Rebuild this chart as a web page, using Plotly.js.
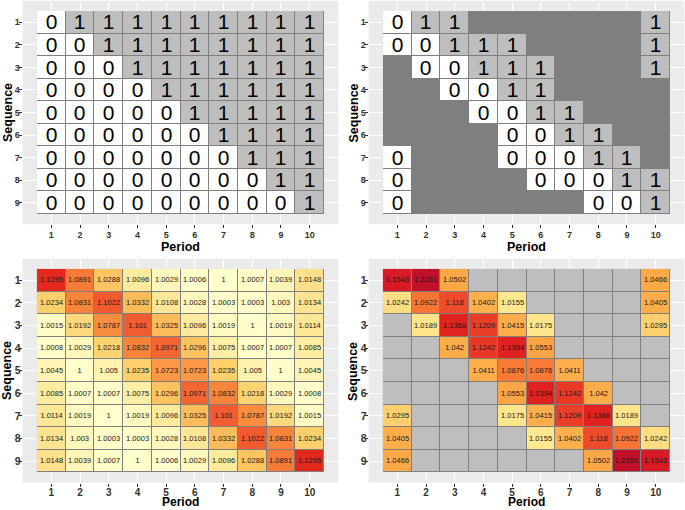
<!DOCTYPE html>
<html>
<head>
<meta charset="utf-8">
<script src="https://cdn.plot.ly/plotly-3.0.1.min.js"></script>
<style>html,body{margin:0;padding:0;background:#fff;}#chart{width:685px;height:510px;}</style>
</head>
<body>
<div id="chart"></div>
<script>
// ---- data ----
const periods = [1,2,3,4,5,6,7,8,9,10];
const sequences = [1,2,3,4,5,6,7,8,9];
const n = null;
const xTitle = 'Period';
const yTitle = 'Sequence';

const designComplete = [
  [0,1,1,1,1,1,1,1,1,1],
  [0,0,1,1,1,1,1,1,1,1],
  [0,0,0,1,1,1,1,1,1,1],
  [0,0,0,0,1,1,1,1,1,1],
  [0,0,0,0,0,1,1,1,1,1],
  [0,0,0,0,0,0,1,1,1,1],
  [0,0,0,0,0,0,0,1,1,1],
  [0,0,0,0,0,0,0,0,1,1],
  [0,0,0,0,0,0,0,0,0,1]
];

const designIncomplete = [
  [0,1,1,n,n,n,n,n,n,1],
  [0,0,1,1,1,n,n,n,n,1],
  [n,0,0,1,1,1,n,n,n,1],
  [n,n,0,0,1,1,n,n,n,n],
  [n,n,n,0,0,1,1,n,n,n],
  [n,n,n,n,0,0,1,1,n,n],
  [0,n,n,n,0,0,0,1,1,n],
  [0,n,n,n,n,0,0,0,1,1],
  [0,n,n,n,n,n,n,0,0,1]
];

const infoComplete = [
  [1.1295,1.0891,1.0288,1.0096,1.0029,1.0006,1,1.0007,1.0039,1.0148],
  [1.0234,1.0831,1.1022,1.0332,1.0108,1.0028,1.0003,1.0003,1.003,1.0134],
  [1.0015,1.0192,1.0787,1.101,1.0325,1.0096,1.0019,1,1.0019,1.0114],
  [1.0008,1.0029,1.0218,1.0832,1.0971,1.0296,1.0075,1.0007,1.0007,1.0085],
  [1.0045,1,1.005,1.0235,1.0723,1.0723,1.0235,1.005,1,1.0045],
  [1.0085,1.0007,1.0007,1.0075,1.0296,1.0971,1.0832,1.0218,1.0029,1.0008],
  [1.0114,1.0019,1,1.0019,1.0096,1.0325,1.101,1.0787,1.0192,1.0015],
  [1.0134,1.003,1.0003,1.0003,1.0028,1.0108,1.0332,1.1022,1.0831,1.0234],
  [1.0148,1.0039,1.0007,1,1.0006,1.0029,1.0096,1.0288,1.0891,1.1295]
];

const infoIncomplete = [
  [1.1543,1.2261,1.0502,n,n,n,n,n,n,1.0466],
  [1.0242,1.0922,1.118,1.0402,1.0155,n,n,n,n,1.0405],
  [n,1.0189,1.1368,1.1209,1.0415,1.0175,n,n,n,1.0295],
  [n,n,1.042,1.1242,1.1394,1.0553,n,n,n,n],
  [n,n,n,1.0411,1.0876,1.0876,1.0411,n,n,n],
  [n,n,n,n,1.0553,1.1394,1.1242,1.042,n,n],
  [1.0295,n,n,n,1.0175,1.0415,1.1209,1.1368,1.0189,n],
  [1.0405,n,n,n,n,1.0155,1.0402,1.118,1.0922,1.0242],
  [1.0466,n,n,n,n,n,n,1.0502,1.2261,1.1543]
];

// ---- styles ----
const FONT = 'Liberation Sans, Arial, sans-serif';
const BORDER = '#7F7F7F';
const MISSING_LIGHT = '#BEBEBE';
const gap = 1;

const scaleBL = [
  [0,'#FFFFCC'],[0.02,'#FFF8BE'],[0.074,'#FEEA9C'],[0.115,'#FEE08C'],
  [0.18,'#FDD06C'],[0.23,'#FDC260'],[0.26,'#FDBA58'],[0.56,'#FA9846'],
  [0.64,'#F7843A'],[0.69,'#F67A38'],[0.75,'#F36632'],[0.78,'#F15C30'],[1,'#E3281E']
];
const scaleBR = [
  [0,'#FFE890'],[0.04,'#FEDE84'],[0.065,'#FED070'],[0.12,'#FDAD4A'],
  [0.19,'#FDA444'],[0.34,'#F97A36'],[0.36,'#F77634'],[0.49,'#EE4A2C'],
  [0.5,'#EB3E28'],[0.58,'#E0221F'],[0.66,'#D61A26'],[1,'#C0102A']
];

function txt(m){ return m.map(r => r.map(v => v === null ? '' : String(v))); }
function fill(m, val){ return m.map(r => r.map(() => val)); }

function base(xa, ya, m, color){
  return {type:'heatmap', x:periods, y:sequences, z:fill(m,1), xaxis:xa, yaxis:ya,
    colorscale:[[0,color],[1,color]], showscale:false, hoverinfo:'skip'};
}

const traces = [
  base('x','y',designComplete,BORDER),
  {type:'heatmap', x:periods, y:sequences, z:designComplete, xaxis:'x', yaxis:'y',
   zmin:0, zmax:1, colorscale:[[0,'#FFFFFF'],[1,MISSING_LIGHT]], showscale:false,
   xgap:gap, ygap:gap, text:txt(designComplete), texttemplate:'%{text}',
   textfont:{family:FONT, size:21, color:'#000'}, hoverinfo:'z'},
  base('x2','y2',designIncomplete,BORDER),
  {type:'heatmap', x:periods, y:sequences, z:designIncomplete, xaxis:'x2', yaxis:'y2',
   zmin:0, zmax:1, colorscale:[[0,'#FFFFFF'],[1,MISSING_LIGHT]], showscale:false,
   xgap:gap, ygap:gap, text:txt(designIncomplete), texttemplate:'%{text}',
   textfont:{family:FONT, size:21, color:'#000'}, hoverinfo:'z'},
  base('x3','y3',infoComplete,BORDER),
  {type:'heatmap', x:periods, y:sequences, z:infoComplete, xaxis:'x3', yaxis:'y3',
   colorscale:scaleBL, showscale:false,
   xgap:gap, ygap:gap, text:txt(infoComplete), texttemplate:'%{text}',
   textfont:{family:FONT, size:7.5, color:'#1a1a1a'}, hoverinfo:'z'},
  base('x4','y4',infoIncomplete,BORDER),
  {type:'heatmap', x:periods, y:sequences, z:fill(infoIncomplete,1), xaxis:'x4', yaxis:'y4',
   colorscale:[[0,MISSING_LIGHT],[1,MISSING_LIGHT]], showscale:false, xgap:gap, ygap:gap, hoverinfo:'skip'},
  {type:'heatmap', x:periods, y:sequences, z:infoIncomplete, xaxis:'x4', yaxis:'y4',
   colorscale:scaleBR, showscale:false,
   xgap:gap, ygap:gap, text:txt(infoIncomplete), texttemplate:'%{text}',
   textfont:{family:FONT, size:7.5, color:'#1a1a1a'}, hoverinfo:'z'}
];

const W = 685, H = 510;
function xdom(a,b){ return [a/W, b/W]; }
function ydom(top,bottom){ return [(H-bottom)/H, (H-top)/H]; }

function xax(dom, anchor, tsize, so){
  return {domain:dom, anchor:anchor, range:[0,11], tickvals:periods, ticktext:periods.map(String),
    showgrid:true, gridcolor:'#FFFFFF', gridwidth:1, zeroline:false, showline:false,
    ticks:'outside', ticklen:3, tickwidth:1, tickcolor:'#333333', ticklabelstandoff:so,
    tickfont:{family:FONT, size:tsize, color:'#333333', weight:'bold'},
    automargin:false, fixedrange:true};
}
function yax(dom, anchor, tsize, so){
  return {domain:dom, anchor:anchor, range:[9.95,0.05], tickvals:sequences, ticktext:sequences.map(String),
    showgrid:true, gridcolor:'#FFFFFF', gridwidth:1, zeroline:false, showline:false,
    ticks:'outside', ticklen:3, tickwidth:1, tickcolor:'#333333', ticklabelstandoff:so,
    tickfont:{family:FONT, size:tsize, color:'#333333', weight:'bold'},
    automargin:false, fixedrange:true};
}

function xt(cx, cy, size, anchor){
  return {text:xTitle, xref:'paper', yref:'paper', x:cx/W, y:1-cy/H, xanchor:'center', yanchor:anchor||'middle',
    borderpad:0, showarrow:false, font:{family:FONT, size:size, color:'#000', weight:'bold'}};
}
function yt(cx, cy, size){
  return {text:yTitle, xref:'paper', yref:'paper', x:cx/W, y:1-cy/H, xanchor:'center', yanchor:'middle',
    borderpad:0, textangle:-90, showarrow:false, font:{family:FONT, size:size, color:'#000', weight:'bold'}};
}

const layout = {
  width:W, height:H, margin:{l:0,r:0,t:0,b:0},
  paper_bgcolor:'#FFFFFF', plot_bgcolor:'#EBEBEB', showlegend:false,
  xaxis: xax(xdom(22.6,338.4),'y',9,-1),
  yaxis: yax(ydom(0.85,224.2),'x',9,-3),
  xaxis2: xax(xdom(368.6,684.4),'y2',9,-1),
  yaxis2: yax(ydom(0.85,224.2),'x2',9,-3),
  xaxis3: xax(xdom(22.6,338.4),'y3',10,-3),
  yaxis3: yax(ydom(258.8,482.6),'x3',10.5,-4),
  xaxis4: xax(xdom(368.6,684.4),'y4',10,-3),
  yaxis4: yax(ydom(258.8,482.6),'x4',10.5,-4),
  annotations: [
    xt(180.5, 246.5, 12.5), xt(526.5, 246.5, 12.5),
    xt(180.5, 510, 12, 'bottom'), xt(526.5, 510, 12, 'bottom'),
    yt(7.5, 112.5, 12.5), yt(353, 112.5, 12.5),
    yt(7, 371, 12.5), yt(353, 371, 12.5)
  ]
};

Plotly.newPlot('chart', traces, layout, {staticPlot:true, displayModeBar:false});
</script>
</body>
</html>
